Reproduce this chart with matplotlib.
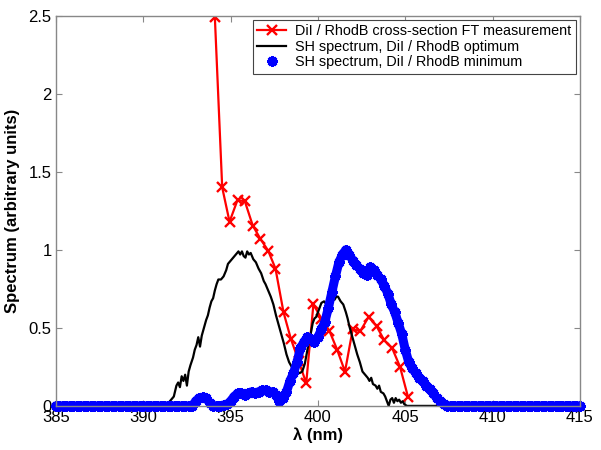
import numpy as np
import matplotlib
matplotlib.use("Agg")
import matplotlib.pyplot as plt

plt.rcParams['font.family'] = ['Liberation Sans', 'DejaVu Sans']

# Red: DiI / RhodB cross-section FT measurement
red_wl = [394.10, 394.52, 394.94, 395.40, 395.82, 396.27, 396.71, 397.15, 397.57,
          398.03, 398.45, 398.89, 399.33, 399.74, 400.20, 400.66, 401.10, 401.55,
          401.99, 402.43, 402.90, 403.36, 403.80, 404.25, 404.70, 405.15]
red_val = [2.49, 1.40, 1.18, 1.32, 1.31, 1.155, 1.07, 0.995, 0.88,
           0.60, 0.43, 0.29, 0.145, 0.65, 0.56, 0.48, 0.36, 0.22,
           0.49, 0.48, 0.57, 0.51, 0.42, 0.37, 0.25, 0.06]

# Black: SH spectrum, DiI / RhodB optimum
blk_wl = [385.0, 391.3, 391.45, 391.6, 391.75, 391.9, 392.0, 392.1, 392.2, 392.3,
          392.4, 392.5, 392.6, 392.7, 392.85, 392.95, 393.05, 393.15, 393.25, 393.35,
          393.5, 393.6, 393.7, 393.8, 393.9, 394.0, 394.1, 394.2, 394.3, 394.45,
          394.6, 394.75, 394.85, 395.0, 395.15, 395.3, 395.45, 395.55, 395.65, 395.75,
          395.85, 395.95, 396.05, 396.15, 396.3, 396.45, 396.6, 396.75, 396.9, 397.0,
          397.15, 397.3, 397.45, 397.6, 397.75, 397.9, 398.05, 398.2, 398.35, 398.5,
          398.65, 398.8, 398.95, 399.1, 399.25, 399.4, 399.5, 399.6, 399.7, 399.8,
          399.9, 400.0, 400.1, 400.2, 400.35, 400.5, 400.65, 400.8, 400.95, 401.05,
          401.15, 401.3, 401.45, 401.6, 401.7, 401.8, 401.95, 402.1, 402.25, 402.4,
          402.55, 402.7, 402.85, 402.95, 403.05, 403.15, 403.3, 403.4, 403.5, 403.6,
          403.75, 403.85, 403.95, 404.05, 404.15, 404.25, 404.35, 404.45, 404.55, 404.65,
          404.75, 404.85, 404.95, 405.1, 415.0]
blk_val = [0.0, 0.0, 0.02, 0.04, 0.06, 0.13, 0.15, 0.12, 0.19, 0.16,
           0.20, 0.13, 0.22, 0.26, 0.31, 0.36, 0.39, 0.44, 0.38, 0.45,
           0.51, 0.55, 0.58, 0.63, 0.67, 0.69, 0.74, 0.78, 0.81, 0.81,
           0.83, 0.87, 0.91, 0.93, 0.95, 0.97, 0.99, 0.97, 0.99, 0.96,
           0.95, 0.99, 0.97, 0.98, 0.94, 0.92, 0.88, 0.85, 0.80, 0.78,
           0.74, 0.70, 0.65, 0.58, 0.52, 0.46, 0.40, 0.33, 0.28, 0.25,
           0.24, 0.22, 0.21, 0.22, 0.27, 0.36, 0.42, 0.47, 0.53, 0.56,
           0.57, 0.60, 0.63, 0.66, 0.67, 0.65, 0.67, 0.69, 0.68, 0.70,
           0.70, 0.67, 0.65, 0.60, 0.56, 0.51, 0.45, 0.39, 0.33, 0.28,
           0.22, 0.20, 0.18, 0.16, 0.18, 0.14, 0.13, 0.11, 0.13, 0.09,
           0.08, 0.06, 0.03, 0.0, 0.04, 0.05, 0.02, 0.05, 0.03, 0.04,
           0.02, 0.03, 0.01, 0.0, 0.0]

# Blue: SH spectrum, DiI / RhodB minimum (sampled every 0.2 nm from 385 nm)
blue_start = 385.0
blue_step = 0.2
blue_val = [0.0] * 40 + [
    0.03, 0.05, 0.055, 0.05, 0.02, 0.0, 0.0, 0.0, 0.005, 0.01,
    0.03, 0.06, 0.08, 0.08, 0.07, 0.08, 0.09, 0.08, 0.09, 0.10,
    0.10, 0.09, 0.09, 0.07, 0.03, 0.05, 0.09, 0.16, 0.21, 0.28,
    0.37, 0.41, 0.44, 0.43, 0.41, 0.44, 0.49, 0.54, 0.63, 0.73,
    0.83, 0.92, 0.97, 1.00, 0.97, 0.93, 0.90, 0.88, 0.85, 0.84,
    0.89, 0.87, 0.84, 0.81, 0.77, 0.72, 0.65, 0.60, 0.53, 0.46,
    0.36, 0.28, 0.24, 0.21, 0.18, 0.16, 0.13, 0.11, 0.08, 0.05,
    0.03, 0.01, 0.0] + [0.0] * 38
blue_wl = blue_start + blue_step * np.arange(len(blue_val))

xticks = [385, 390, 395, 400, 405, 410, 415]
yticks = [0, 0.5, 1, 1.5, 2, 2.5]
ytick_labels = ['0', '0.5', '1', '1.5', '2', '2.5']

fig = plt.figure(figsize=(6.01, 4.5), dpi=100)
ax = fig.add_axes([0.093, 0.098, 0.872, 0.867])

ax.plot(red_wl, red_val, color='#ff0000', lw=1.6, marker='x', ms=6.5, mew=1.7,
        label='DiI / RhodB cross-section FT measurement')
ax.plot(blk_wl, blk_val, color='black', lw=1.6,
        label='SH spectrum, DiI / RhodB optimum')
# dense marker band for the blue series (continuous trace under the markers)
ax.plot(blue_wl, blue_val, color='#0000ff', lw=6.5, solid_joinstyle='round',
        solid_capstyle='round', clip_on=False)
ax.plot(blue_wl, blue_val, color='#0000ff', lw=0, marker=(8, 2, 0), ms=7.5, mew=2.2,
        label='SH spectrum, DiI / RhodB minimum', clip_on=False)

ax.set_xlim(385, 415)
ax.set_ylim(0, 2.5)
ax.set_xticks(xticks)
ax.set_yticks(yticks)
ax.set_yticklabels(ytick_labels)
ax.tick_params(direction='in', top=True, right=True, labelsize=12, length=4,
               color='#888888', pad=3)
for s in ax.spines.values():
    s.set_color('#888888')
    s.set_linewidth(1.0)

ax.set_xlabel('λ (nm)', fontsize=12, fontweight='bold', labelpad=2)
ax.set_ylabel('Spectrum (arbitrary units)', fontsize=12, fontweight='bold', labelpad=6)

leg = ax.legend(loc='upper right', fontsize=10.4, fancybox=False, framealpha=1,
                edgecolor='#444444', borderpad=0.3, labelspacing=0.1,
                handlelength=2.0, handletextpad=0.6, borderaxespad=0.3)
leg.get_frame().set_linewidth(0.8)

fig.savefig('out.png', dpi=100)
